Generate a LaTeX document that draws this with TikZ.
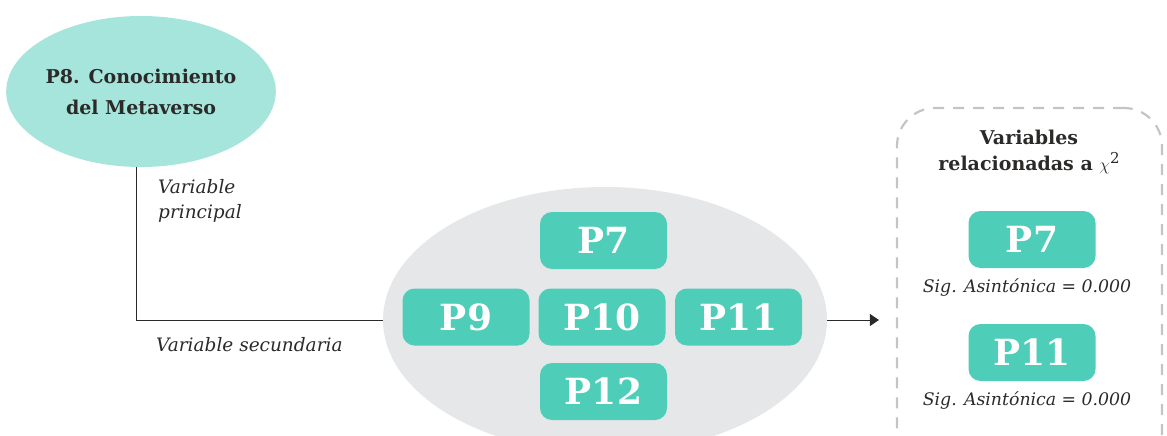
\documentclass[tikz,border=0pt]{standalone}
\usepackage{fontspec}
\setmainfont{DejaVu Serif}
\usetikzlibrary{shapes.geometric,arrows.meta,calc}
\definecolor{mint}{HTML}{A6E5DC}
\definecolor{tealbox}{HTML}{4ECDB9}
\definecolor{cloud}{HTML}{E6E7E8}
\definecolor{ink}{HTML}{2B2A29}
\definecolor{dashgray}{HTML}{C3C4C6}
\begin{document}
\begin{tikzpicture}[x=1pt,y=-1pt,
  pbox/.style={fill=tealbox, rounded corners=12pt, minimum width=127pt,
    minimum height=57pt, inner sep=0pt, text=white,
    font=\bfseries\fontsize{36}{36}\selectfont},
  note/.style={text=ink, font=\itshape\fontsize{18.5}{25}\selectfont, inner sep=0pt},
  sig/.style={text=ink, font=\itshape\fontsize{17.3}{20}\selectfont, inner sep=0pt},
  head/.style={text=ink, font=\bfseries\fontsize{19}{31}\selectfont, align=center, inner sep=0pt},
  link/.style={draw=ink, line width=0.9pt}]
\useasboundingbox (0,0) rectangle (1167,436);

% main variable
\node[ellipse, fill=mint, minimum width=264pt, minimum height=151pt, inner sep=0pt,
  head] (p8) at (141,91.5) {P8. Conocimiento\\del Metaverso};

% cloud of secondary variables
\node[ellipse, fill=cloud, minimum width=444pt, minimum height=266pt, inner sep=0pt] (grp) at (605,320) {};
\node[pbox] (b7)  at (603.5,240.5) {P7};
\node[pbox] (b9)  at (466,317) {P9};
\node[pbox] (b10) at (602,317) {P10};
\node[pbox] (b11) at (738.5,317) {P11};
\node[pbox] (b12) at (603.5,391.5) {P12};

% related variables panel
\node[draw=dashgray, line width=2.2pt, dash pattern=on 11pt off 9pt, rounded corners=38pt,
  minimum width=265pt, minimum height=362pt, inner sep=0pt] (panel) at (1029.5,289) {};
\node[head, font=\bfseries\fontsize{19}{26}\selectfont] (ttl) at (1029,152)
  {Variables\\relacionadas a $\chi$\raisebox{7pt}{\normalfont\fontsize{15}{15}\selectfont 2}};
\node[pbox] (r7)  at (1032,239.5) {P7};
\node[sig] (s7)  at (1027,288) {Sig. Asintónica = 0.000};
\node[pbox] (r11) at (1032,352.5) {P11};
\node[sig] (s11) at (1027,400) {Sig. Asintónica = 0.000};

% connectors
\draw[link] ([xshift=-5pt]p8.south) |- (grp.west);
\draw[link, -{Triangle[length=9pt,width=12pt]}, shorten >=17pt] (grp.east) -- (grp.east -| panel.west);

% connector labels
\node[note, anchor=west, align=left] (lp) at (158,201) {Variable\\principal};
\node[note, anchor=west] (ls) at (156,345) {Variable secundaria};
\end{tikzpicture}
\end{document}
